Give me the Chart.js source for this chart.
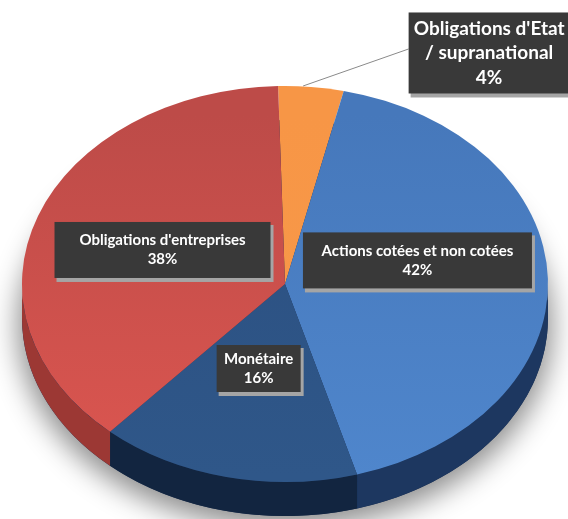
<!DOCTYPE html>
<html><head><meta charset="utf-8">
<script src="https://cdn.jsdelivr.net/npm/chart.js@4.4.1/dist/chart.umd.min.js"></script>
<style>
html,body{margin:0;padding:0;background:#fff;overflow:hidden}
#wrap{position:relative;width:568px;height:519px;overflow:hidden}
#halo{position:absolute;border-radius:50%;background:#888;box-shadow:0 8px 28px 6px rgba(0,0,0,0.45)}
#c{position:absolute;left:0;top:0}
</style>
</head><body>
<div id="wrap"><div id="halo"></div><canvas id="c" width="568" height="519"></canvas></div>
<script>
// ---- data ----
const categories = ["Obligations d'Etat / supranational", "Actions cotées et non cotées", "Monétaire", "Obligations d'entreprises"];
const labelLines = [["Obligations d'Etat", "/ supranational"], ["Actions cotées et non cotées"], ["Monétaire"], ["Obligations d'entreprises"]];
const shares = [4, 42, 16, 38];

// ---- style ----
const topColors = [["#f79646", "#f8994a"], ["#4678bb", "#4f86cc"], ["#2b4f80", "#2f5789"], ["#bd4b48", "#dc5650"]];
const sideColors = ["#b86a2e", "#1d3760", "#122540", "#9c3834"];
const TILT = 198 / 263;
const DEPTH = 34;

const labelLayout = [
  {f: 1.0, dx: 178, dy: -34, w: 161, h: 81, font: 19, lh: 24.5, leader: true},
  {f: 0.5, dx: 1, dy: -21, w: 229, h: 56, font: 15, lh: 19},
  {f: 0.5, dx: 3, dy: -12, w: 84, h: 47, font: 15, lh: 19},
  {f: 0.5, dx: 1, dy: 0, w: 216, h: 56, font: 15, lh: 19}
];

const pie3d = {
  id: 'pie3d',
  beforeDatasetsDraw(chart) {
    const ctx = chart.ctx;
    const arcs = chart.getDatasetMeta(0).data;
    const {x: cx, y: cy, outerRadius: r} = arcs[0];
    const ry = r * TILT;
    // position the CSS halo (soft shadow) under the base of the pie
    const halo = document.getElementById('halo');
    halo.style.left = (cx - r + 2) + 'px';
    halo.style.top = (cy + DEPTH - ry + 2) + 'px';
    halo.style.width = (2 * r - 4) + 'px';
    halo.style.height = (2 * ry - 4) + 'px';
    ctx.fillStyle = '#1a2f50';
    ctx.beginPath(); ctx.ellipse(cx, cy + DEPTH, r, ry, 0, 0, Math.PI * 2); ctx.fill();
    arcs.forEach((arc, i) => {
      const s = arc.startAngle, e = arc.endAngle;
      for (let k = -1; k <= 1; k++) {
        const a0 = Math.max(s, k * 2 * Math.PI), a1 = Math.min(e, k * 2 * Math.PI + Math.PI);
        if (a1 <= a0) continue;
        ctx.beginPath();
        ctx.ellipse(cx, cy, r, ry, 0, a0, a1, false);
        ctx.ellipse(cx, cy + DEPTH, r, ry, 0, a1, a0, true);
        ctx.closePath();
        ctx.fillStyle = sideColors[i];
        ctx.fill();
      }
    });
    ctx.save();
    ctx.translate(cx, cy); ctx.scale(1, TILT); ctx.translate(-cx, -cy);
  },
  afterDatasetsDraw(chart) {
    const ctx = chart.ctx;
    ctx.restore();
    const arcs = chart.getDatasetMeta(0).data;
    const {x: cx, y: cy, outerRadius: r} = arcs[0];
    const ry = r * TILT;
    arcs.forEach((arc, i) => {
      const L = labelLayout[i];
      const mid = (arc.startAngle + arc.endAngle) / 2;
      const px = cx + r * L.f * Math.cos(mid), py = cy + ry * L.f * Math.sin(mid);
      const bx = px + L.dx, by = py + L.dy;
      if (L.leader) {
        ctx.save();
        ctx.strokeStyle = '#8a8a8a'; ctx.lineWidth = 1;
        ctx.beginPath(); ctx.moveTo(bx - L.w / 2, by - 4); ctx.lineTo(px - 8, py - 1); ctx.stroke();
        ctx.restore();
      }
      ctx.save();
      ctx.fillStyle = '#a5a5a5';
      ctx.fillRect(bx - L.w / 2 + 2, by - L.h / 2 + 3, L.w + 1, L.h + 1);
      ctx.fillStyle = '#393939';
      ctx.fillRect(bx - L.w / 2, by - L.h / 2, L.w, L.h);
      ctx.restore();
      const lines = labelLines[i].concat([shares[i] + '%']);
      ctx.save();
      ctx.fillStyle = '#ffffff';
      ctx.font = 'bold ' + L.font + 'px Lato, "Open Sans", sans-serif';
      ctx.textAlign = 'center'; ctx.textBaseline = 'middle';
      const y0 = by - (lines.length - 1) * L.lh / 2;
      lines.forEach((t, j) => ctx.fillText(t, bx, y0 + j * L.lh));
      ctx.restore();
    });
  }
};

const ctx = document.getElementById('c').getContext('2d');
function grad(i) {
  const g = ctx.createLinearGradient(0, 60, 0, 540);
  g.addColorStop(0, topColors[i][0]); g.addColorStop(1, topColors[i][1]);
  return g;
}
new Chart(ctx, {
  type: 'pie',
  data: {
    labels: categories,
    datasets: [{
      data: shares,
      backgroundColor: shares.map((_, i) => grad(i)),
      borderWidth: 0,
      radius: 263,
      rotation: -1.5,
      clip: false
    }]
  },
  options: {
    responsive: false,
    animation: false,
    events: [],
    layout: {padding: {left: 2, right: 0, top: 49, bottom: 0}},
    plugins: {legend: {display: false}, tooltip: {enabled: false}}
  },
  plugins: [pie3d]
});
</script>
</body></html>
